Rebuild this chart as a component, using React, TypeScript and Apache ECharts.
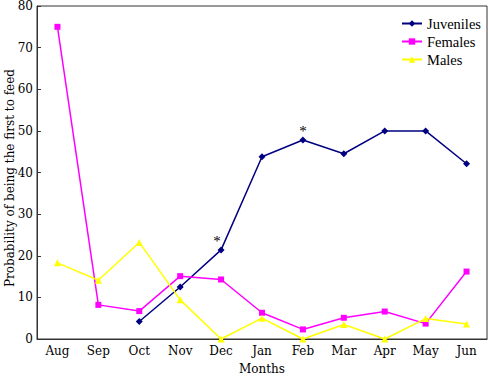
import React, { useEffect, useRef } from "react";
import * as echarts from "echarts";

const months = ["Aug", "Sep", "Oct", "Nov", "Dec", "Jan", "Feb", "Mar", "Apr", "May", "Jun"];
const juveniles: (number | null)[] = [null, null, 4.2, 12.5, 21.4, 43.8, 47.8, 44.5, 50, 50, 42.1];
const females = [75, 8.2, 6.7, 15.1, 14.3, 6.3, 2.3, 5.1, 6.6, 3.7, 16.2];
const males = [18.3, 14.1, 23.2, 9.4, 0, 5.0, 0, 3.5, 0, 4.9, 3.6];
const juvenileSignificant = ["Dec", "Feb"];
const yTicks = { min: 0, max: 80, interval: 10 };
const yTitle = "Probability of being the first to feed";

const FONT = "'DejaVu Serif', 'Liberation Serif', serif";
const LFONT = "'Liberation Serif', serif";

export default function App() {
  const ref = useRef<HTMLDivElement>(null);
  useEffect(() => {
    document.body.style.margin = "0";
    const chart = echarts.init(ref.current!, null, { renderer: "svg" });
    const juvData = juveniles.map((v, i) =>
      juvenileSignificant.includes(months[i]) && v != null
        ? {
            value: v,
            label: {
              show: true,
              formatter: "*",
              position: "top",
              distance: 0,
              offset: [months[i] === "Dec" ? -4 : 0, 2],
              fontSize: 15,
              fontFamily: LFONT,
              color: "#000",
            },
          }
        : v
    );
    chart.setOption({
      animation: false,
      textStyle: { fontFamily: FONT },
      grid: {
        left: 37,
        right: 1,
        top: 6,
        bottom: 37,
        show: true,
        borderColor: "#333",
        borderWidth: 1,
        containLabel: false,
        outerBoundsMode: "none",
      },
      graphic: [
        {
          type: "text",
          x: 10,
          y: 178,
          rotation: Math.PI / 2,
          style: {
            text: yTitle,
            fontFamily: FONT,
            fontSize: 12,
            fill: "#000",
            align: "center",
            verticalAlign: "middle",
          },
        },
      ],
      legend: {
        orient: "vertical",
        left: 396,
        top: 11,
        itemWidth: 20,
        itemHeight: 8,
        itemGap: 3,
        textStyle: { fontFamily: LFONT, fontSize: 14.5, color: "#000" },
        data: ["Juveniles", "Females", "Males"],
      },
      xAxis: {
        type: "category",
        data: months,
        boundaryGap: true,
        name: "Months",
        nameLocation: "middle",
        nameGap: 24,
        nameTextStyle: { fontFamily: FONT, fontSize: 12, color: "#000" },
        axisLine: { lineStyle: { color: "#333" } },
        axisTick: { inside: true, length: 4, interval: 0, lineStyle: { color: "#333" } },
        axisLabel: { color: "#000", fontSize: 12, fontFamily: FONT, margin: 6, interval: 0 },
        splitLine: { show: false },
      },
      yAxis: {
        type: "value",
        min: yTicks.min,
        max: yTicks.max,
        interval: yTicks.interval,
        axisLine: { show: true, lineStyle: { color: "#333" } },
        axisTick: { show: true, inside: true, length: 4, lineStyle: { color: "#333" } },
        axisLabel: { color: "#000", fontSize: 12, fontFamily: FONT, margin: 4 },
        splitLine: { show: false },
      },
      series: [
        {
          name: "Juveniles",
          type: "line",
          data: juvData,
          symbol: "diamond",
          symbolSize: 7,
          itemStyle: { color: "#000080" },
          lineStyle: { color: "#000080", width: 1.5 },
        },
        {
          name: "Females",
          type: "line",
          data: females,
          symbol: "rect",
          symbolSize: 6,
          itemStyle: { color: "#ff00ff" },
          lineStyle: { color: "#ff00ff", width: 1.5 },
        },
        {
          name: "Males",
          type: "line",
          data: males,
          symbol: "triangle",
          symbolSize: 7,
          itemStyle: { color: "#ffff00" },
          lineStyle: { color: "#ffff00", width: 1.5 },
        },
      ],
    });
    return () => chart.dispose();
  }, []);
  return <div ref={ref} style={{ width: 488, height: 376 }} />;
}
